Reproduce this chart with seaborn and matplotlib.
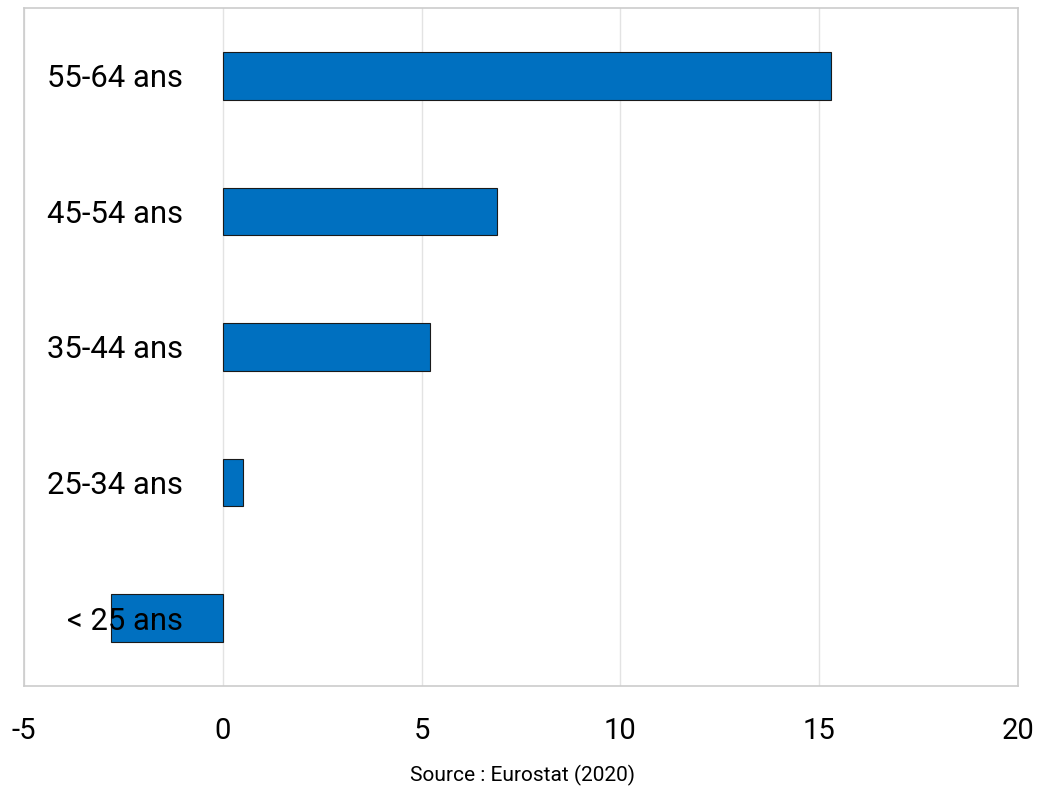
import matplotlib
matplotlib.use("Agg")
import matplotlib.pyplot as plt
import seaborn as sns
import pandas as pd

categories = ["55-64 ans", "45-54 ans", "35-44 ans", "25-34 ans", "< 25 ans"]
values = [15.3, 6.9, 5.2, 0.5, -2.8]
xticks = [-5, 0, 5, 10, 15, 20]
source = "Source : Eurostat (2020)"

sns.set_style("white")
plt.rcParams['font.family'] = ['Roboto', 'DejaVu Sans']
plt.rcParams['text.color'] = 'black'
plt.rcParams['xtick.color'] = 'black'

df = pd.DataFrame({"cat": categories, "val": values})

fig = plt.figure(figsize=(10.39, 7.87), dpi=100)
ax = fig.add_axes([24/1039, 1-686/787, (1018-24)/1039, (686-8)/787])

sns.barplot(data=df, y="cat", x="val", orient="h", color="#0070C0",
            saturation=1, width=0.35, edgecolor="#1a1a1a", linewidth=0.8,
            ax=ax, zorder=3)

ax.set_xlim(-5, 20)
ax.set_ylim(4.5, -0.5)
ax.set_xticks(xticks)
ax.set_xticklabels([str(t) for t in xticks], fontsize=21, color="black")
ax.tick_params(axis='x', length=0, pad=22)
ax.set_yticks([])
ax.set_xlabel("")
ax.set_ylabel("")
ax.grid(axis='x', color="#e3e3e3", linewidth=1, zorder=0)
ax.set_axisbelow(True)
for s in ax.spines.values():
    s.set_color("#cccccc")
    s.set_linewidth(1.2)

for i, c in enumerate(categories):
    ax.text(-1.0, i, c, ha="right", va="center_baseline", fontsize=22.3,
            color="black", zorder=5)

fig.text(523/1039, 1-775/787, source, ha="center", va="center", fontsize=15, color="black")

fig.savefig("out.png", dpi=100)
